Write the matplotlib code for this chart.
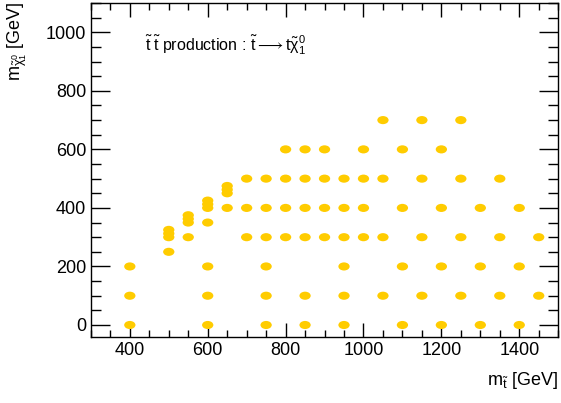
import numpy as np
import matplotlib
matplotlib.use("Agg")
import matplotlib.pyplot as plt
from matplotlib.path import Path
from matplotlib.ticker import MultipleLocator

plt.rcParams['font.family'] = ['Liberation Sans', 'DejaVu Sans']
plt.rcParams['mathtext.fontset'] = 'custom'
plt.rcParams['mathtext.rm'] = 'Liberation Sans'
plt.rcParams['mathtext.it'] = 'Liberation Sans'
plt.rcParams['mathtext.bf'] = 'Liberation Sans:bold'

# Signal grid points (m_stop, m_LSP) in GeV
m_stop = [
    400, 400, 400,
    500, 500, 500, 500,
    550, 550, 550, 550,
    600, 600, 600, 600, 600, 600, 600,
    650, 650, 650, 650,
    700, 700, 700,
    750, 750, 750, 750, 750, 750,
    800, 800, 800, 800,
    850, 850, 850, 850, 850, 850,
    900, 900, 900, 900,
    950, 950, 950, 950, 950, 950,
    1000, 1000, 1000, 1000,
    1050, 1050, 1050, 1050,
    1100, 1100, 1100, 1100,
    1150, 1150, 1150, 1150,
    1200, 1200, 1200, 1200,
    1250, 1250, 1250, 1250,
    1300, 1300, 1300,
    1350, 1350, 1350,
    1400, 1400, 1400,
    1450, 1450,
]
m_lsp = [
    0, 100, 200,
    250, 300, 312.5, 325,
    300, 350, 362.5, 375,
    0, 100, 200, 350, 400, 412.5, 425,
    400, 450, 462.5, 475,
    300, 400, 500,
    0, 100, 200, 300, 400, 500,
    300, 400, 500, 600,
    0, 100, 300, 400, 500, 600,
    300, 400, 500, 600,
    0, 100, 200, 300, 400, 500,
    300, 400, 500, 600,
    100, 300, 500, 700,
    0, 200, 400, 600,
    100, 300, 500, 700,
    0, 200, 400, 600,
    100, 300, 500, 700,
    0, 200, 400,
    100, 300, 500,
    0, 200, 400,
    100, 300,
]

title = r"$\mathrm{\tilde{t}\;\tilde{t}}$ production : $\mathrm{\tilde{t}\longrightarrow t\tilde{\chi}_{1}^{0}}$"
xlabel = r"$\mathrm{m_{\tilde{t}}}$ [GeV]"
ylabel = r"$\mathrm{m_{\tilde{\chi}_{1}^{0}}}$ [GeV]"

fig = plt.figure(figsize=(5.61, 4.03), dpi=100)
ax = fig.add_axes([0.162, 0.1645, 0.833, 0.828])

circ = Path.unit_circle()
ell = Path(circ.vertices * np.array([1.0, 0.72]), circ.codes)
ax.scatter(m_stop, m_lsp, marker=ell, s=66, color='#FFCC00', edgecolors='none', zorder=3)

ax.set_xlim(300, 1500)
ax.set_ylim(-40, 1100)
ax.xaxis.set_major_locator(MultipleLocator(200))
ax.xaxis.set_minor_locator(MultipleLocator(50))
ax.yaxis.set_major_locator(MultipleLocator(200))
ax.yaxis.set_minor_locator(MultipleLocator(50))
ax.tick_params(which='both', direction='in', top=True, right=True, labelsize=13, width=1.0)
ax.tick_params(axis='y', which='major', length=14)
ax.tick_params(axis='y', which='minor', length=7)
ax.tick_params(axis='x', which='major', length=10)
ax.tick_params(axis='x', which='minor', length=5)
for s in ax.spines.values():
    s.set_linewidth(1.0)

ax.text(0.116, 0.875, title, transform=ax.transAxes, fontsize=11.5, va='center', ha='left')
fig.text(0.995, 0.03, xlabel, ha='right', va='bottom', fontsize=13)
fig.text(0.01, 0.995, ylabel, ha='left', va='top', rotation=90, fontsize=13)

fig.savefig('out.png', dpi=100)
